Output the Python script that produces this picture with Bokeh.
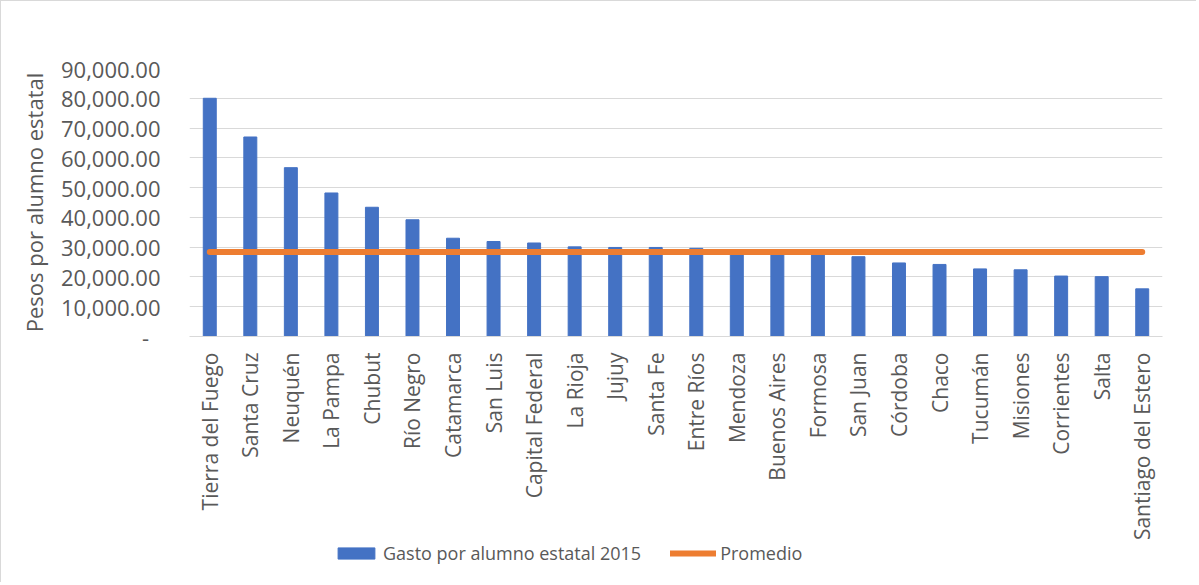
import math
from bokeh.plotting import figure
from bokeh.layouts import column
from bokeh.models import (ColumnDataSource, FactorRange, Range1d, NumeralTickFormatter,
                          Legend, LegendItem)
from bokeh.embed import file_html
from bokeh.resources import INLINE

provincias = ["Tierra del Fuego", "Santa Cruz", "Neuquén", "La Pampa", "Chubut", "Río Negro",
              "Catamarca", "San Luis", "Capital Federal", "La Rioja", "Jujuy", "Santa Fe",
              "Entre Ríos", "Mendoza", "Buenos Aires", "Formosa", "San Juan", "Córdoba",
              "Chaco", "Tucumán", "Misiones", "Corrientes", "Salta", "Santiago del Estero"]
gasto_2015 = [80000, 67000, 56700, 48200, 43400, 39200,
              33000, 31900, 31400, 30100, 29900, 29900,
              29600, 28700, 28400, 28000, 26800, 24700,
              24200, 22700, 22400, 20300, 20100, 16000]
promedio = [28400, 28400, 28400, 28400, 28400, 28400,
            28400, 28400, 28400, 28400, 28400, 28400,
            28400, 28400, 28400, 28400, 28400, 28400,
            28400, 28400, 28400, 28400, 28400, 28400]
y_ticks = [0, 10000, 20000, 30000, 40000, 50000, 60000, 70000, 80000, 90000]

FONT = "Open Sans"
GREY = "#595959"
BLUE = "#4472C4"
ORANGE = "#ED7D31"

src = ColumnDataSource(dict(x=provincias, gasto=gasto_2015, prom=promedio))

p = figure(width=1196, height=542, x_range=FactorRange(*provincias, range_padding=0),
           y_range=Range1d(0, 90000), output_backend="svg", toolbar_location=None,
           min_border_left=188, min_border_right=35, min_border_top=67, min_border_bottom=205)
p.x_range.factor_padding = 0

p.vbar(x="x", top="gasto", width=0.32, source=src, fill_color=BLUE, line_color=BLUE)
p.line(x="x", y="prom", source=src, line_color=ORANGE, line_width=6, line_cap="round")

p.outline_line_color = None
p.xgrid.grid_line_color = None
p.ygrid.grid_line_color = "#d9d9d9"
p.ygrid.grid_line_width = 1
p.yaxis.ticker = y_ticks
p.yaxis.formatter = NumeralTickFormatter(format="0,0.00")
p.yaxis.major_label_overrides = {0: "-\u00a0\u00a0"}
p.yaxis.axis_line_color = None
p.yaxis.major_tick_line_color = None
p.yaxis.minor_tick_line_color = None
p.yaxis.major_label_text_font = FONT
p.yaxis.major_label_text_font_size = "22px"
p.yaxis.major_label_text_color = GREY
p.yaxis.major_label_standoff = 23
p.yaxis.axis_label = "Pesos por alumno estatal"
p.yaxis.axis_label_text_font = FONT
p.yaxis.axis_label_text_font_size = "22px"
p.yaxis.axis_label_text_font_style = "normal"
p.yaxis.axis_label_text_color = GREY
p.yaxis.axis_label_standoff = 9

p.xaxis.axis_line_color = "#d9d9d9"
p.xaxis.axis_line_width = 1
p.xaxis.major_tick_line_color = None
p.xaxis.minor_tick_line_color = None
p.xaxis.major_label_orientation = math.pi / 2
p.xaxis.major_label_text_font = FONT
p.xaxis.major_label_text_font_size = "21px"
p.xaxis.major_label_text_color = GREY
p.xaxis.major_label_standoff = 10
p.styles = {"border-left": "1px solid #d9d9d9", "border-top": "1px solid #d9d9d9"}

# legend strip (legend swatches only; their glyphs carry no visible data)
nan = float("nan")
lg = figure(width=1196, height=40, x_range=Range1d(0, 1), y_range=Range1d(0, 1),
            output_backend="svg", toolbar_location=None, x_axis_type=None,
            y_axis_type=None, min_border=0)
lg.outline_line_color = None
lg.xgrid.grid_line_color = None
lg.ygrid.grid_line_color = None
lb = lg.vbar(x=[nan], top=[nan], width=0.3, fill_color=BLUE, line_color=BLUE)
ll = lg.line(x=[nan, nan], y=[nan, nan], line_color=ORANGE, line_width=6, line_cap="round")
legend = Legend(items=[LegendItem(label="Gasto por alumno estatal 2015", renderers=[lb]),
                       LegendItem(label="Promedio", renderers=[ll])],
                orientation="horizontal", location=(144, 17), padding=0, margin=0,
                spacing=29, glyph_width=46, glyph_height=14, label_standoff=4,
                label_text_font=FONT, label_text_font_size="18px", label_text_color=GREY,
                border_line_color=None, background_fill_alpha=0)
lg.add_layout(legend, "center")
lg.styles = {"border-left": "1px solid #d9d9d9"}

layout = column(p, lg, spacing=0)
open("out.html", "w").write(file_html(layout, INLINE))
